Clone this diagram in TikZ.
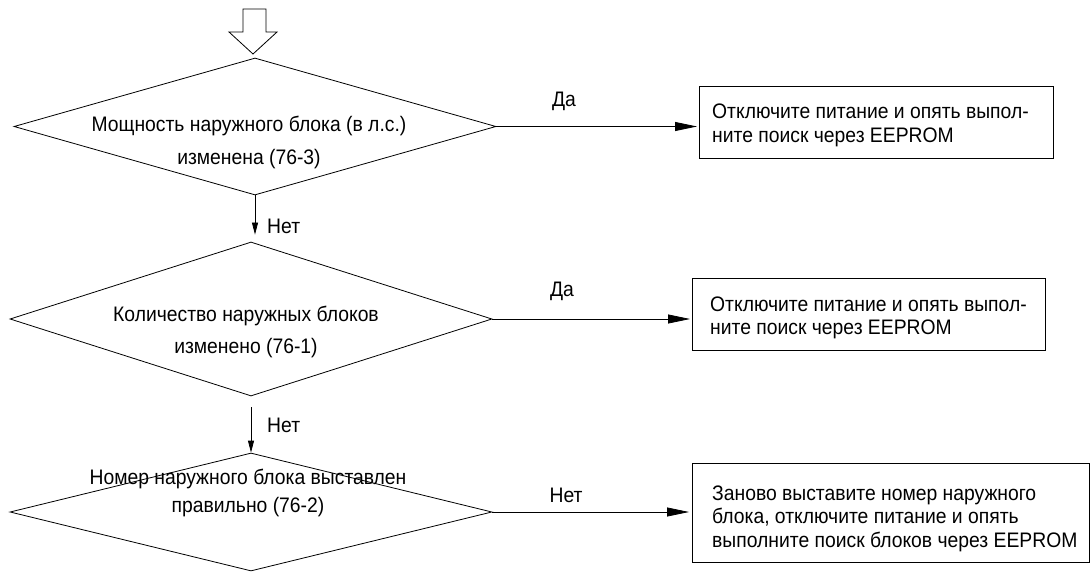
\documentclass[tikz,border=0pt]{standalone}
\usepackage{fontspec}
\setmainfont[FakeStretch=0.92]{Liberation Sans}
\usetikzlibrary{arrows.meta,shapes.geometric}
\begin{document}
\begin{tikzpicture}[x=1pt,y=-1pt,
  txt/.style={font=\fontsize{21}{24}\selectfont, inner sep=0pt},
  dia/.style={draw, diamond, inner sep=0pt, line width=0.8pt},
  dtext/.style={txt, align=center, anchor=base},
  actbox/.style={draw, rectangle, inner sep=0pt, line width=0.9pt, anchor=north west},
  btext/.style={txt, align=left, anchor=base west},
  lbl/.style={txt, anchor=base},
  flow/.style={line width=0.8pt, -{Triangle[length=22pt,width=9pt]}},
  down/.style={line width=0.8pt, -{Triangle[length=12pt,width=6pt]}}]
\useasboundingbox (0,0) rectangle (1090,572);

% entry arrow
\draw[line width=0.8pt] (243,9) -- (243,32) -- (229,32) -- (253,54) -- (277,32)
  -- (266,32) -- (266,9) -- cycle;

% decisions (text nodes are placed by the baseline of their last line)
\node[dia, minimum width=482pt, minimum height=137pt] (d1) at (255,126.5) {};
\node[dtext, font=\fontsize{21}{33}\selectfont] (t1) at (249,165)
  {Мощность наружного блока (в л.с.)\\изменена (76-3)};

\node[dia, minimum width=482pt, minimum height=154pt] (d2) at (251,319) {};
\node[dtext, font=\fontsize{21}{32}\selectfont] (t2) at (246,353)
  {Количество наружных блоков\\изменено (76-1)};

\node[dia, minimum width=482pt, minimum height=118pt] (d3) at (251,512) {};
\node[dtext, font=\fontsize{21}{28}\selectfont] (t3) at (248,512)
  {Номер наружного блока выставлен\\правильно (76-2)};

% actions
\node[actbox, minimum width=354pt, minimum height=72pt] (b1) at (699,86) {};
\node[btext, font=\fontsize{21}{24}\selectfont] (s1) at (712,143)
  {Отключите питание и опять выпол-\\ните поиск через EEPROM};

\node[actbox, minimum width=353pt, minimum height=72pt] (b2) at (692,278) {};
\node[btext, font=\fontsize{21}{22}\selectfont] (s2) at (710,334)
  {Отключите питание и опять выпол-\\ните поиск через EEPROM};

\node[actbox, minimum width=397pt, minimum height=99pt] (b3) at (692,463) {};
\node[btext, font=\fontsize{21}{23.5}\selectfont] (s3) at (712,547)
  {Заново выставите номер наружного\\блока, отключите питание и опять\\выполните поиск блоков через EEPROM};

% connectors
\draw[flow, shorten >=2pt] (d1.east) -- (d1.east -| b1.west);
\node[lbl] (y1) at (564,107) {Да};
\draw[flow, shorten >=2pt] (d2.east) -- (d2.east -| b2.west);
\node[lbl] (y2) at (562,297) {Да};
\draw[flow, shorten >=3pt] (d3.east) -- (d3.east -| b3.west);
\node[lbl] (n3) at (566,502) {Нет};

\draw[down, shorten >=7pt] (d1.south) -- (d1.south |- d2.north);
\node[lbl, anchor=base west] (n1) at (267,234) {Нет};
\draw[down, shorten <=11pt] (d2.south) -- (d2.south |- d3.north);
\node[lbl, anchor=base west] (n2) at (267,432) {Нет};
\end{tikzpicture}
\end{document}
